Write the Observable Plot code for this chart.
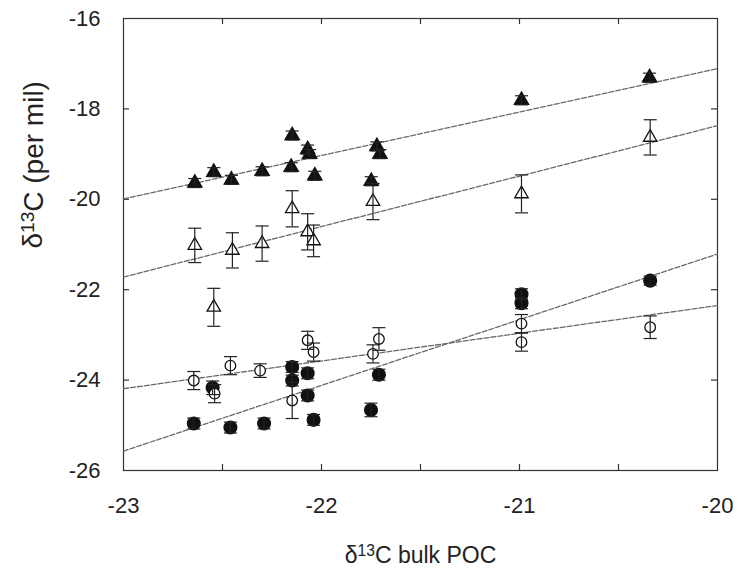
<!DOCTYPE html>
<html>
<head>
<meta charset="utf-8">
<script src="https://cdn.jsdelivr.net/npm/d3@7"></script>
<script src="https://cdn.jsdelivr.net/npm/@observablehq/plot@0.6"></script>
<style>
  html, body { margin: 0; padding: 0; background: #fff; }
  svg { font-family: "Liberation Sans", Arial, sans-serif; }
</style>
</head>
<body>
<div id="chart"></div>
<script>
// Axis domains and tick values
const xDomain = [-23, -20];
const yDomain = [-26, -16];
const xTickLabels = [-23, -22, -21, -20];
const xTickMarks = [-22.5, -22, -21.5, -21, -20.5];
const yTickLabels = [-26, -24, -22, -20, -18, -16];
const yTickMarks = [-24, -22, -20, -18];

// Axis titles
const xTitle = "\u03b4\u00b9\u00b3C bulk POC";
const yTitle = "\u03b4\u00b9\u00b3C (per mil)";

// Filled triangles
const filledTriX = [-22.64, -22.544, -22.455, -22.30, -22.153, -22.148, -22.07, -22.06, -22.034, -21.72, -21.705, -21.749, -20.99, -20.343];
const filledTriY = [-19.64, -19.40, -19.57, -19.38, -19.29, -18.59, -18.90, -19.00, -19.48, -18.83, -19.00, -19.60, -17.81, -17.31];
const filledTriErr = [0.1, 0.1, 0.1, 0.1, 0.1, 0.1, 0.1, 0.1, 0.1, 0.1, 0.1, 0.1, 0.1, 0.1];

// Open triangles
const openTriX = [-22.64, -22.544, -22.45, -22.30, -22.148, -22.07, -22.04, -21.74, -20.99, -20.34];
const openTriY = [-21.02, -22.39, -21.13, -20.98, -20.21, -20.72, -20.92, -20.05, -19.88, -18.63];
const openTriErr = [0.38, 0.42, 0.39, 0.39, 0.40, 0.40, 0.35, 0.40, 0.42, 0.39];

// Filled circles
const filledCircX = [-22.645, -22.55, -22.46, -22.29, -22.148, -22.148, -22.07, -22.07, -22.04, -21.75, -21.71, -20.99, -20.99, -20.34];
const filledCircY = [-24.96, -24.17, -25.05, -24.96, -23.71, -24.01, -23.85, -24.34, -24.88, -24.66, -23.88, -22.10, -22.30, -21.80];
const filledCircErr = [0.12, 0.15, 0.12, 0.12, 0.12, 0.12, 0.12, 0.12, 0.12, 0.15, 0.12, 0.12, 0.12, 0.1];

// Open circles
const openCircX = [-22.645, -22.54, -22.46, -22.31, -22.148, -22.07, -22.04, -21.74, -21.71, -20.99, -20.99, -20.34];
const openCircY = [-24.01, -24.30, -23.68, -23.79, -24.45, -23.12, -23.38, -23.42, -23.09, -22.75, -23.16, -22.83];
const openCircErr = [0.2, 0.2, 0.2, 0.15, 0.4, 0.2, 0.2, 0.2, 0.25, 0.2, 0.2, 0.25];

// Regression lines: y at x = -23 and x = -20
const lineXEnds = [-23, -20];
const lineFilledTri = [-19.99, -17.11];
const lineOpenTri = [-21.72, -18.37];
const lineFilledCirc = [-25.57, -21.21];
const lineOpenCirc = [-24.19, -22.35];

const rows = (xs, ys, es) => xs.map((x, i) => ({x, y: ys[i], e: es ? es[i] : 0}));
const lineRows = (ys) => lineXEnds.map((x, i) => ({x, y: ys[i]}));

const fTri = rows(filledTriX, filledTriY, filledTriErr);
const oTri = rows(openTriX, openTriY, openTriErr);
const fCir = rows(filledCircX, filledCircY, filledCircErr);
const oCir = rows(openCircX, openCircY, openCircErr);
const allPts = [...fTri, ...oTri, ...fCir, ...oCir];
const capHalf = 0.033;

const W = 742, H = 570, ML = 123, MR = 25, MT = 18, MB = 100;
const frameW = W - ML - MR, frameH = H - MT - MB, tickLen = 6;
// tick length expressed in data units of each axis
const tdx = (xDomain[1] - xDomain[0]) * tickLen / frameW;
const tdy = (yDomain[1] - yDomain[0]) * tickLen / frameH;

const lineStyle = {x: "x", y: "y", stroke: "#6a6a6a", strokeWidth: 1.3, strokeDasharray: "5,2"};
const tickStyle = {stroke: "#333", strokeWidth: 1.2};

const chart = Plot.plot({
  width: W,
  height: H,
  marginLeft: ML,
  marginRight: MR,
  marginTop: MT,
  marginBottom: MB,
  style: {fontFamily: "'Liberation Sans', Arial, sans-serif", background: "#fff", color: "#222"},
  x: {domain: xDomain},
  y: {domain: yDomain},
  marks: [
    Plot.frame({stroke: "#333", strokeWidth: 1.2}),
    // inward ticks
    Plot.ruleX(xTickMarks, {x: d => d, y1: yDomain[0], y2: yDomain[0] + tdy, ...tickStyle}),
    Plot.ruleX(xTickMarks, {x: d => d, y1: yDomain[1], y2: yDomain[1] - tdy, ...tickStyle}),
    Plot.ruleY(yTickMarks, {y: d => d, x1: xDomain[0], x2: xDomain[0] + tdx, ...tickStyle}),
    Plot.ruleY(yTickMarks, {y: d => d, x1: xDomain[1], x2: xDomain[1] - tdx, ...tickStyle}),
    // tick labels
    Plot.axisX(xTickLabels, {anchor: "bottom", tickSize: 0, tickPadding: 27, fontSize: 22, tickFormat: d => String(d), label: null}),
    Plot.axisY(yTickLabels, {anchor: "left", tickSize: 0, tickPadding: 23, fontSize: 22, tickFormat: d => String(d), label: null}),
    // axis titles
    Plot.text([xTitle], {frameAnchor: "bottom", dy: 85, fontSize: 23, text: d => d, lineAnchor: "middle", fill: "#222"}),
    Plot.text([yTitle], {frameAnchor: "left", dx: -90, dy: 4, rotate: -90, fontSize: 28, text: d => d, lineAnchor: "middle", fill: "#222"}),
    // regression lines
    Plot.line(lineRows(lineFilledTri), lineStyle),
    Plot.line(lineRows(lineOpenTri), lineStyle),
    Plot.line(lineRows(lineFilledCirc), lineStyle),
    Plot.line(lineRows(lineOpenCirc), lineStyle),
    // markers
    Plot.dot(fCir, {x: "x", y: "y", r: 6.3, fill: "#111", stroke: "#111", symbol: "circle"}),
    Plot.dot(oCir, {x: "x", y: "y", r: 5.3, fill: "white", stroke: "#111", strokeWidth: 1.3, symbol: "circle"}),
    Plot.dot(fTri, {x: "x", y: "y", r: 5.2, fill: "#111", stroke: "#111", symbol: "triangle"}),
    Plot.dot(oTri, {x: "x", y: "y", r: 5, fill: "white", stroke: "#111", strokeWidth: 1.3, symbol: "triangle"}),
    // error bars
    Plot.ruleX(allPts, {x: "x", y1: d => d.y - d.e, y2: d => d.y + d.e, stroke: "#222", strokeWidth: 1.2}),
    Plot.link(allPts, {x1: d => d.x - capHalf, x2: d => d.x + capHalf, y1: d => d.y + d.e, y2: d => d.y + d.e, stroke: "#222", strokeWidth: 1.2}),
    Plot.link(allPts, {x1: d => d.x - capHalf, x2: d => d.x + capHalf, y1: d => d.y - d.e, y2: d => d.y - d.e, stroke: "#222", strokeWidth: 1.2})
  ]
});

// render "13" as a true superscript in the titles
d3.select(chart).selectAll("text").each(function () {
  const t = this.textContent;
  if (t.indexOf("\u00b9\u00b3") === -1) return;
  const [before, after] = t.split("\u00b9\u00b3");
  const el = d3.select(this);
  el.text(null);
  el.append("tspan").text(before);
  el.append("tspan").attr("font-size", "68%").attr("dy", "-0.45em").text("13");
  el.append("tspan").attr("dy", "0.31em").text(after);
});
document.getElementById("chart").appendChild(chart);
</script>
</body>
</html>
